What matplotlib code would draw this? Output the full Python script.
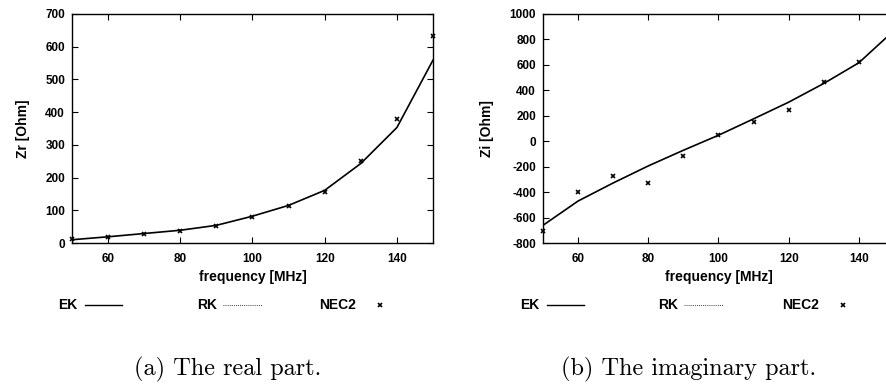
import numpy as np
import matplotlib.pyplot as plt
from matplotlib.lines import Line2D

plt.rcParams['axes.unicode_minus'] = False

# frequencies [MHz]
freq = [50, 60, 70, 80, 90, 100, 110, 120, 130, 140, 150]

# real part, EK line and NEC2 points
zr_ek = [10, 19, 29, 39, 54, 82, 115, 161, 243, 353, 559]
zr_nec = [12, 18, 28, 36, 53, 80, 114, 156, 251, 378, 634]

# imaginary part
zi_ek = [-661, -470, -328, -194, -71, 47, 176, 307, 454, 617, 870]
freq_nec_i = [50, 60, 70, 80, 90, 100, 110, 120, 130, 140]
zi_nec = [-709, -402, -276, -325, -113, 47, 155, 249, 467, 622]

W, H = 887, 386
fig = plt.figure(figsize=(W / 100, H / 100), dpi=100)
tickfnt = dict(family='Liberation Sans', weight='bold', size=8.5)
fnt = dict(family='Liberation Sans', weight='bold', size=10)


def px(x0, y0, x1, y1):
    # pixel box -> figure fraction rect
    return [x0 / W, 1 - y1 / H, (x1 - x0) / W, (y1 - y0) / H]


def setup(ax, ylab, yticks, ylim):
    ax.set_xlim(50, 150)
    ax.set_ylim(*ylim)
    ax.set_xticks([60, 80, 100, 120, 140])
    ax.set_yticks(yticks)
    ax.tick_params(direction='in', length=4.5, width=0.8, top=True, right=True)
    ax.tick_params(axis='x', pad=7)
    ax.tick_params(axis='y', pad=5)
    for lab in ax.get_xticklabels() + ax.get_yticklabels():
        lab.set_fontproperties(dict(tickfnt))
    ax.set_xlabel('frequency [MHz]', fontdict=fnt, labelpad=4)
    ax.set_ylabel(ylab, fontdict=fnt, labelpad=11)
    for s in ax.spines.values():
        s.set_linewidth(1.0)


ax1 = fig.add_axes(px(72, 14, 433, 243))
ax1.plot(freq, zr_ek, color='black', lw=1.2)
ax1.plot(freq, zr_nec, 'x', color='black', ms=3.5, mew=1.2, clip_on=False)
setup(ax1, 'Zr [Ohm]', range(0, 701, 100), (0, 700))

ax2 = fig.add_axes(px(543, 14, 894, 243))
ax2.plot(freq, zi_ek, color='black', lw=1.2)
ax2.plot(freq_nec_i, zi_nec, 'x', color='black', ms=3.5, mew=1.2, clip_on=False)
setup(ax2, 'Zi [Ohm]', range(-800, 1001, 200), (-800, 1000))

# legends in a row below each plot
ly = 1 - 305 / H
for ek_x, rk_x, nec_x in [(58, 197, 319), (520, 658, 782)]:
    fig.text(ek_x / W, ly, 'EK', ha='left', va='center', **fnt)
    fig.add_artist(Line2D([(ek_x + 27) / W, (ek_x + 64) / W], [ly, ly], color='black', lw=1.0))
    fig.text(rk_x / W, ly, 'RK', ha='left', va='center', **fnt)
    fig.add_artist(Line2D([(rk_x + 26) / W, (rk_x + 65) / W], [ly, ly], color='black', lw=0.6,
                          ls=(0, (1, 1.5))))
    fig.text(nec_x / W, ly, 'NEC2', ha='left', va='center', **fnt)
    fig.add_artist(Line2D([(nec_x + 61) / W], [ly], marker='x', color='black', ms=2.5, mew=1.2))

# captions
cap = dict(family='cmr10', size=17.5, ha='center', va='center')
fig.text(228 / W, 1 - 369 / H, '(a) The real part.', **cap)
fig.text(689 / W, 1 - 369 / H, '(b) The imaginary part.', **cap)

fig.savefig('out.png', dpi=100)
